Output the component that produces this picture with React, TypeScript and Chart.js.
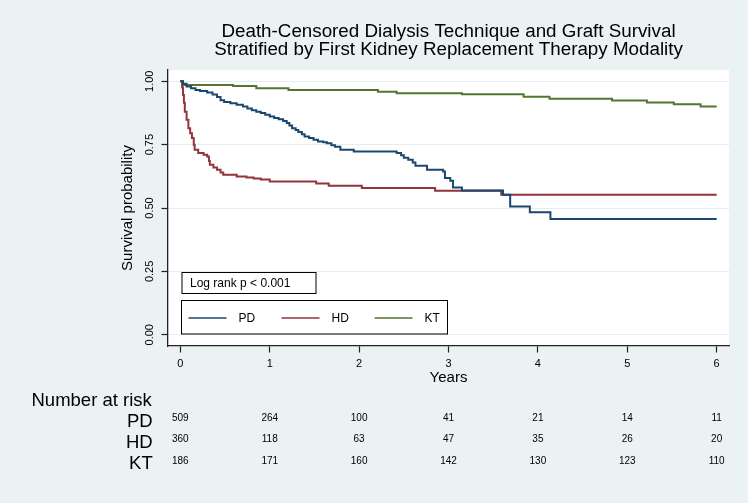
import React, { useEffect, useRef } from "react";
import { Chart, registerables } from "chart.js";

Chart.register(...registerables);

const TITLE_LINES = [
  "Death-Censored Dialysis Technique and Graft Survival",
  "Stratified by First Kidney Replacement Therapy Modality",
];
const X_TITLE = "Years";
const Y_TITLE = "Survival probability";
const LOGRANK_TEXT = "Log rank p < 0.001";
const RISK_TITLE = "Number at risk";

const SERIES_NAMES = ["PD", "HD", "KT"];
const SERIES_COLORS = ["#1A476F", "#90353B", "#55752F"];

const YEAR_TICKS = [0, 1, 2, 3, 4, 5, 6];
const SURV_TICKS = [0, 0.25, 0.5, 0.75, 1];

// Kaplan-Meier step points (time in years, survival probability)
const PD_TIMES = [0, 0.03, 0.07, 0.12, 0.17, 0.22, 0.3, 0.36, 0.41, 0.45, 0.49, 0.56, 0.63, 0.7, 0.75, 0.8, 0.85, 0.9, 0.95, 1.0, 1.05, 1.1, 1.15, 1.19, 1.22, 1.25, 1.29, 1.32, 1.36, 1.39, 1.44, 1.49, 1.54, 1.6, 1.64, 1.69, 1.73, 1.79, 1.94, 2.42, 2.47, 2.5, 2.55, 2.6, 2.63, 2.76, 2.94, 2.96, 3.02, 3.05, 3.15, 3.61, 3.69, 3.91, 4.14, 6.0];
const PD_SURV = [1.0, 0.99, 0.979, 0.972, 0.966, 0.962, 0.956, 0.948, 0.938, 0.925, 0.918, 0.913, 0.907, 0.9, 0.893, 0.886, 0.88, 0.875, 0.868, 0.861, 0.855, 0.85, 0.843, 0.835, 0.826, 0.815, 0.808, 0.8, 0.791, 0.782, 0.776, 0.769, 0.762, 0.759, 0.755, 0.748, 0.742, 0.73, 0.723, 0.717, 0.708, 0.698, 0.69, 0.68, 0.667, 0.651, 0.644, 0.618, 0.608, 0.581, 0.569, 0.552, 0.506, 0.483, 0.457, 0.457];

const HD_TIMES = [0, 0.02, 0.03, 0.04, 0.05, 0.07, 0.09, 0.11, 0.13, 0.15, 0.16, 0.2, 0.26, 0.3, 0.32, 0.33, 0.37, 0.41, 0.45, 0.48, 0.63, 0.74, 0.82, 0.9, 1.0, 1.52, 1.66, 2.03, 2.85, 3.59, 6.0];
const HD_SURV = [1.0, 0.975, 0.946, 0.915, 0.88, 0.848, 0.815, 0.795, 0.776, 0.75, 0.73, 0.717, 0.71, 0.703, 0.685, 0.671, 0.66, 0.651, 0.64, 0.631, 0.624, 0.62, 0.616, 0.612, 0.605, 0.597, 0.588, 0.579, 0.568, 0.552, 0.552];

const KT_TIMES = [0, 0.03, 0.59, 0.85, 1.21, 2.21, 2.42, 3.15, 3.84, 4.13, 4.83, 5.22, 5.52, 5.82, 6.0];
const KT_SURV = [1.0, 0.985, 0.981, 0.972, 0.966, 0.959, 0.953, 0.949, 0.939, 0.931, 0.924, 0.916, 0.909, 0.9, 0.9];

const RISK_PD = [509, 264, 100, 41, 21, 14, 11];
const RISK_HD = [360, 118, 63, 47, 35, 26, 20];
const RISK_KT = [186, 171, 160, 142, 130, 123, 110];

const FONT = "'Liberation Sans', Arial, Helvetica, sans-serif";
const BG = "#EAF2F3";

function toPoints(times: number[], surv: number[]) {
  return times.map((t, i) => ({ x: t, y: surv[i] }));
}

const decorPlugin = {
  id: "decor",
  beforeDraw(chart: any) {
    const { ctx, chartArea } = chart;
    ctx.save();
    ctx.fillStyle = BG;
    ctx.fillRect(0, 0, chart.width, chart.height);
    ctx.fillStyle = "#FFFFFF";
    ctx.fillRect(chartArea.left, chartArea.top, chartArea.right - chartArea.left, chartArea.bottom - chartArea.top);
    ctx.restore();
  },
  afterDraw(chart: any) {
    const { ctx, chartArea } = chart;
    const xs = chart.scales.x;
    const cx = (chartArea.left + chartArea.right) / 2;
    ctx.save();
    // Title
    ctx.fillStyle = "#000";
    ctx.font = `18.8px ${FONT}`;
    ctx.textAlign = "center";
    ctx.textBaseline = "alphabetic";
    ctx.fillText(TITLE_LINES[0], cx, 37);
    ctx.fillText(TITLE_LINES[1], cx, 54.5);

    // Log rank box
    const L = chartArea.left;
    ctx.fillStyle = "#FFF";
    ctx.strokeStyle = "#000";
    ctx.lineWidth = 1;
    ctx.fillRect(L + 14, 272.5, 134, 21);
    ctx.strokeRect(L + 14, 272.5, 134, 21);
    ctx.fillStyle = "#000";
    ctx.font = `12px ${FONT}`;
    ctx.textAlign = "left";
    ctx.textBaseline = "middle";
    ctx.fillText(LOGRANK_TEXT, L + 22, 283.5);

    // Legend box
    ctx.fillStyle = "#FFF";
    ctx.fillRect(L + 13.5, 300.5, 266, 33.5);
    ctx.strokeRect(L + 13.5, 300.5, 266, 33.5);
    chart.data.datasets.forEach((ds: any, i: number) => {
      const x0 = L + 20.5 + i * 93;
      ctx.strokeStyle = ds.borderColor;
      ctx.lineWidth = 1.5;
      ctx.beginPath();
      ctx.moveTo(x0, 318);
      ctx.lineTo(x0 + 38, 318);
      ctx.stroke();
      ctx.fillStyle = "#000";
      ctx.font = `12px ${FONT}`;
      ctx.textAlign = "left";
      ctx.textBaseline = "middle";
      ctx.fillText(ds.label, x0 + 50, 318.5);
    });

    // Number at risk table
    ctx.fillStyle = "#000";
    ctx.font = `18.5px ${FONT}`;
    ctx.textAlign = "left";
    ctx.textBaseline = "alphabetic";
    ctx.fillText(RISK_TITLE, 31.5, 405.7);
    const rows = [RISK_PD, RISK_HD, RISK_KT];
    const baseY = [426.7, 448, 469.3];
    const midY = [418, 439.5, 461];
    rows.forEach((row, r) => {
      ctx.font = `18.5px ${FONT}`;
      ctx.textAlign = "right";
      ctx.textBaseline = "alphabetic";
      ctx.fillText(SERIES_NAMES[r], 152.7, baseY[r]);
      ctx.font = `10px ${FONT}`;
      ctx.textAlign = "center";
      ctx.textBaseline = "middle";
      row.forEach((v, k) => {
        ctx.fillText(String(v), xs.getPixelForValue(YEAR_TICKS[k]), midY[r]);
      });
    });
    ctx.restore();
  },
};

export default function App() {
  const canvasRef = useRef<HTMLCanvasElement | null>(null);

  useEffect(() => {
    if (!canvasRef.current) return;
    const chart = new Chart(canvasRef.current, {
      type: "line",
      data: {
        datasets: [
          { label: SERIES_NAMES[0], data: toPoints(PD_TIMES, PD_SURV), borderColor: SERIES_COLORS[0] },
          { label: SERIES_NAMES[1], data: toPoints(HD_TIMES, HD_SURV), borderColor: SERIES_COLORS[1] },
          { label: SERIES_NAMES[2], data: toPoints(KT_TIMES, KT_SURV), borderColor: SERIES_COLORS[2] },
        ].map((d) => ({
          ...d,
          stepped: "before" as const,
          borderWidth: 2,
          pointRadius: 0,
          fill: false,
          backgroundColor: d.borderColor,
        })),
      },
      options: {
        animation: false,
        responsive: false,
        devicePixelRatio: 1,
        layout: { padding: { top: 70, right: 19, bottom: 116, left: 0 } },
        plugins: {
          legend: { display: false },
          title: { display: false },
          tooltip: { enabled: false },
        },
        scales: {
          x: {
            type: "linear",
            min: -0.138,
            max: 6.138,
            afterBuildTicks: (scale: any) => {
              scale.ticks = YEAR_TICKS.map((v) => ({ value: v }));
            },
            afterFit: (scale: any) => {
              scale.height = 41;
            },
            ticks: {
              color: "#000",
              font: { family: FONT, size: 11 },
              padding: 4.4,
              maxRotation: 0,
              callback: (v: any) => String(v),
            },
            grid: {
              drawOnChartArea: false,
              drawTicks: true,
              tickLength: 6.5,
              tickColor: "#222",
              tickWidth: 1.2,
            },
            border: { display: true, color: "#222", width: 1.3 },
            title: {
              display: true,
              text: X_TITLE,
              color: "#000",
              font: { family: FONT, size: 15 },
              padding: { top: 0, bottom: 0 },
            },
          },
          y: {
            type: "linear",
            min: -0.0445,
            max: 1.0445,
            afterBuildTicks: (scale: any) => {
              scale.ticks = SURV_TICKS.map((v) => ({ value: v }));
            },
            afterFit: (scale: any) => {
              scale.width = 168;
            },
            ticks: {
              color: "#000",
              font: { family: FONT, size: 11 },
              padding: 0.5,
              minRotation: 90,
              maxRotation: 90,
              crossAlign: "center",
              callback: (v: any) => Number(v).toFixed(2),
            },
            grid: {
              drawOnChartArea: true,
              color: "#E3ECEE",
              lineWidth: 1,
              drawTicks: true,
              tickLength: 6.5,
              tickColor: "#222",
              tickWidth: 1.2,
            },
            border: { display: true, color: "#222", width: 1.3 },
            title: {
              display: true,
              text: Y_TITLE,
              color: "#000",
              font: { family: FONT, size: 15 },
              padding: { top: 119, bottom: 0 },
            },
          },
        },
      },
      plugins: [decorPlugin],
    } as any);
    return () => chart.destroy();
  }, []);

  return (
    <div style={{ position: "absolute", left: 0, top: 0, width: 748, height: 503, background: BG }}>
      <canvas ref={canvasRef} width={748} height={503} style={{ display: "block", width: 748, height: 503 }} />
    </div>
  );
}
